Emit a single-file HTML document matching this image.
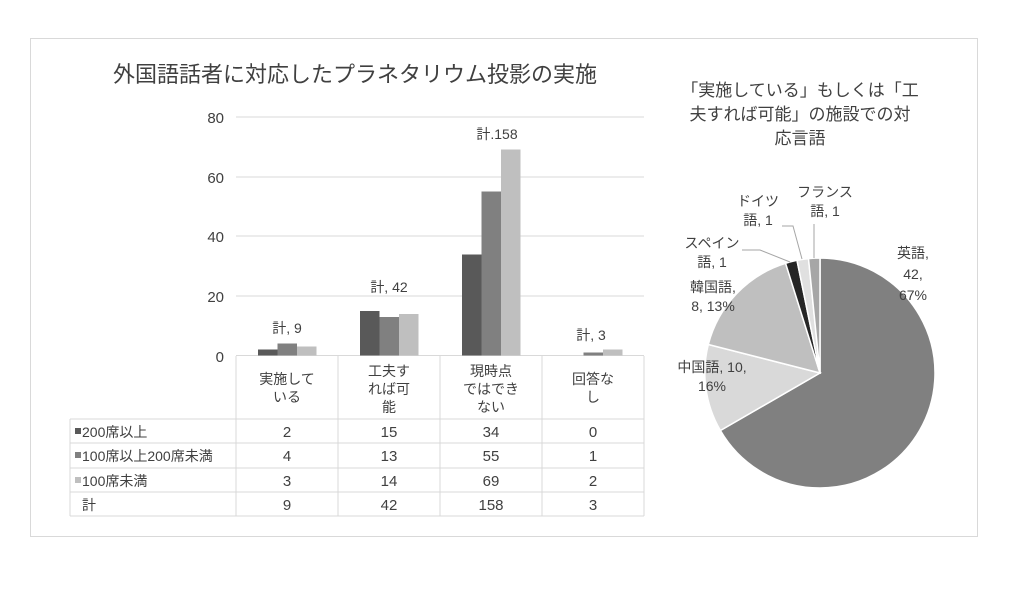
<!DOCTYPE html>
<html><head><meta charset="utf-8"><style>
body{margin:0;background:#fff;}
svg text{font-family:"Liberation Sans","Noto Sans CJK JP",sans-serif;fill:#404040;}
</style></head><body>
<svg width="1024" height="586" xmlns="http://www.w3.org/2000/svg">
<rect x="0" y="0" width="1024" height="586" fill="#fff"/>
<rect x="30.5" y="38.5" width="947" height="498" fill="#fff" stroke="#d9d9d9"/>
<text x="355" y="82" font-size="22" text-anchor="middle" fill="#595959">外国語話者に対応したプラネタリウム投影の実施</text>
<g stroke="#d9d9d9" stroke-width="1">
<line x1="236" y1="117" x2="644" y2="117"/><line x1="236" y1="177" x2="644" y2="177"/>
<line x1="236" y1="236" x2="644" y2="236"/><line x1="236" y1="296" x2="644" y2="296"/>
<line x1="236" y1="355.5" x2="644" y2="355.5"/>
</g>
<g font-size="15" text-anchor="end" fill="#595959">
<text x="224" y="123">80</text><text x="224" y="183">60</text><text x="224" y="242">40</text><text x="224" y="302">20</text><text x="224" y="362">0</text>
</g>
<g>
<rect x="258" y="349.5" width="19.5" height="6" fill="#595959"/><rect x="277.5" y="343.5" width="19.5" height="12" fill="#808080"/><rect x="297" y="346.5" width="19.5" height="9" fill="#bfbfbf"/>
<rect x="360" y="311" width="19.5" height="44.5" fill="#595959"/><rect x="379.5" y="317" width="19.5" height="38.5" fill="#808080"/><rect x="399" y="314" width="19.5" height="41.5" fill="#bfbfbf"/>
<rect x="462" y="254.5" width="19.5" height="101" fill="#595959"/><rect x="481.5" y="191.5" width="19.5" height="164" fill="#808080"/><rect x="501" y="149.5" width="19.5" height="206" fill="#bfbfbf"/>
<rect x="583.5" y="352.5" width="19.5" height="3" fill="#808080"/><rect x="603" y="349.5" width="19.5" height="6" fill="#bfbfbf"/>
</g>
<g font-size="14" text-anchor="middle">
<text x="287" y="333">計, 9</text><text x="389" y="292">計, 42</text><text x="497" y="139">計.158</text><text x="591" y="340">計, 3</text>
</g>
<g stroke="#d9d9d9" stroke-width="1" fill="none">
<line x1="236" y1="356" x2="236" y2="516"/><line x1="338" y1="356" x2="338" y2="516"/>
<line x1="440" y1="356" x2="440" y2="516"/><line x1="542" y1="356" x2="542" y2="516"/><line x1="644" y1="356" x2="644" y2="516"/>
<line x1="70" y1="419" x2="70" y2="516"/>
<line x1="70" y1="419" x2="644" y2="419"/><line x1="70" y1="443" x2="644" y2="443"/>
<line x1="70" y1="468" x2="644" y2="468"/><line x1="70" y1="492" x2="644" y2="492"/><line x1="70" y1="516" x2="644" y2="516"/>
</g>
<g font-size="14" text-anchor="middle">
<text x="287" y="384">実施して</text><text x="287" y="402">いる</text>
<text x="389" y="376">工夫す</text><text x="389" y="394">れば可</text><text x="389" y="412">能</text>
<text x="491" y="376">現時点</text><text x="491" y="394">ではでき</text><text x="491" y="412">ない</text>
<text x="593" y="384">回答な</text><text x="593" y="402">し</text>
</g>
<rect x="75" y="428" width="6" height="6" fill="#595959"/>
<rect x="75" y="452" width="6" height="6" fill="#808080"/>
<rect x="75" y="477" width="6" height="6" fill="#bfbfbf"/>
<g font-size="14">
<text x="82" y="437">200席以上</text><text x="82" y="461">100席以上200席未満</text><text x="82" y="486">100席未満</text><text x="82" y="510">計</text>
</g>
<g font-size="15" text-anchor="middle">
<text x="287" y="437">2</text><text x="389" y="437">15</text><text x="491" y="437">34</text><text x="593" y="437">0</text>
<text x="287" y="461">4</text><text x="389" y="461">13</text><text x="491" y="461">55</text><text x="593" y="461">1</text>
<text x="287" y="486">3</text><text x="389" y="486">14</text><text x="491" y="486">69</text><text x="593" y="486">2</text>
<text x="287" y="510">9</text><text x="389" y="510">42</text><text x="491" y="510">158</text><text x="593" y="510">3</text>
</g>
<g font-size="17" text-anchor="middle" fill="#595959">
<text x="800" y="96">「実施している」もしくは「工</text>
<text x="800" y="120">夫すれば可能」の施設での対</text>
<text x="800" y="144">応言語</text>
</g>
<g stroke="#fff" stroke-width="1.5">
<path d="M820,373 L820,258 A115,115 0 1 1 720.4,430.5 Z" fill="#808080"/>
<path d="M820,373 L720.4,430.5 A115,115 0 0 1 708.3,344.5 Z" fill="#d9d9d9"/>
<path d="M820,373 L708.3,344.5 A115,115 0 0 1 785.6,263.3 Z" fill="#bfbfbf"/>
<path d="M820,373 L785.6,263.3 A115,115 0 0 1 797,260.3 Z" fill="#262626"/>
<path d="M820,373 L797,260.3 A115,115 0 0 1 808.5,258.6 Z" fill="#e0e0e0"/>
<path d="M820,373 L808.5,258.6 A115,115 0 0 1 820,258 Z" fill="#a6a6a6"/>
</g>
<g stroke="#a6a6a6" fill="none" stroke-width="1">
<polyline points="814,258 814,224"/>
<polyline points="802,259 793,226 782,226"/>
<polyline points="790,262 760,250 742,250"/>
</g>
<g font-size="14" text-anchor="middle">
<text x="825" y="197">フランス</text><text x="825" y="216">語, 1</text>
<text x="758" y="206">ドイツ</text><text x="758" y="225">語, 1</text>
<text x="712" y="248">スペイン</text><text x="712" y="267">語, 1</text>
<text x="713" y="292">韓国語,</text><text x="713" y="311">8, 13%</text>
<text x="712" y="372">中国語, 10,</text><text x="712" y="391">16%</text>
<text x="913" y="258">英語,</text><text x="913" y="279">42,</text><text x="913" y="300">67%</text>
</g>
</svg>
</body></html>
